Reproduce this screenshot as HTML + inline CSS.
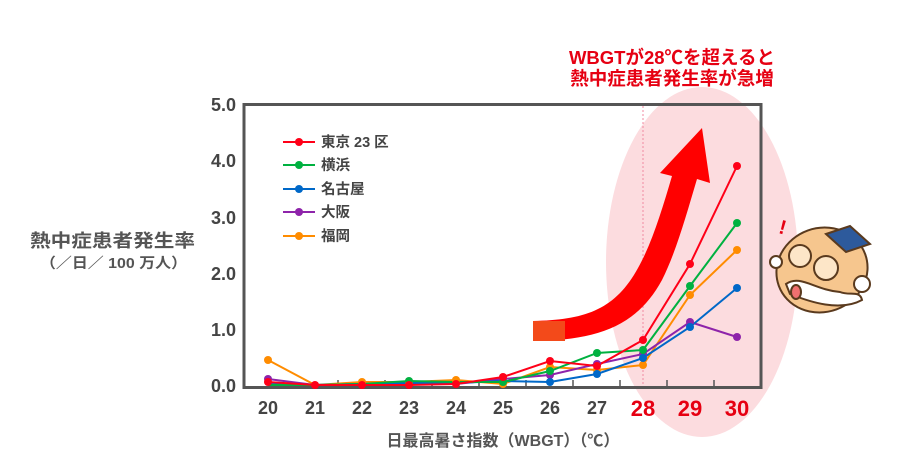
<!DOCTYPE html>
<html><head><meta charset="utf-8"><style>
html,body{margin:0;padding:0;background:#fff;}
svg{display:block;}
text{font-family:"Liberation Sans","Noto Sans CJK JP",sans-serif;font-weight:bold;}
</style></head><body>
<svg width="905" height="470" viewBox="0 0 905 470" xmlns="http://www.w3.org/2000/svg">
<ellipse cx="702" cy="262" rx="96" ry="175" fill="#fcdcdf"/>
<text x="672" y="64" font-size="18.5" fill="#e60012" text-anchor="middle">WBGTが28℃を超えると</text>
<text x="672" y="85" font-size="18.5" fill="#e60012" text-anchor="middle">熱中症患者発生率が急増</text>
<rect x="244" y="104.5" width="517" height="283" fill="none" stroke="#555" stroke-width="3"/>
<line x1="643" y1="106" x2="643" y2="386" stroke="#f08aa0" stroke-width="1" stroke-dasharray="2,2"/>
<g stroke="#555" stroke-width="1.5">
<line x1="338" y1="386" x2="338" y2="380"/><line x1="385" y1="386" x2="385" y2="380"/><line x1="432" y1="386" x2="432" y2="380"/><line x1="479" y1="386" x2="479" y2="380"/><line x1="526" y1="386" x2="526" y2="380"/><line x1="573" y1="386" x2="573" y2="380"/><line x1="620" y1="386" x2="620" y2="380"/><line x1="667" y1="386" x2="667" y2="380"/><line x1="714" y1="386" x2="714" y2="380"/>
</g>
<g font-size="18" fill="#444" text-anchor="end">
<text x="236" y="111">5.0</text><text x="236" y="167">4.0</text><text x="236" y="224">3.0</text><text x="236" y="280">2.0</text><text x="236" y="336">1.0</text><text x="236" y="392">0.0</text>
</g>
<text x="30" y="247" font-size="18" fill="#555" textLength="165" lengthAdjust="spacingAndGlyphs">熱中症患者発生率</text>
<text x="40" y="268" font-size="14.5" fill="#555" textLength="147" lengthAdjust="spacingAndGlyphs">（／日／ 100 万人）</text>
<g font-size="18" fill="#444" text-anchor="middle">
<text x="268" y="414">20</text><text x="315" y="414">21</text><text x="362" y="414">22</text><text x="409" y="414">23</text><text x="456" y="414">24</text><text x="503" y="414">25</text><text x="550" y="414">26</text><text x="597" y="414">27</text>
</g>
<g font-size="22" fill="#e60012" text-anchor="middle">
<text x="643" y="416">28</text><text x="690" y="416">29</text><text x="737" y="416">30</text>
</g>
<text x="503" y="446" font-size="16" fill="#555" text-anchor="middle" font-weight="normal">日最高暑さ指数（WBGT）（℃）</text>
<path d="M533 321 C585 320 615 310 638 268 C652 243 662 210 672 176 L660 173 L702 128 L710 183 L697 179 C686 216 676 252 662 280 C636 328 595 340 533 341 Z" fill="#f00"/>
<rect x="533" y="321" width="32" height="20" fill="#f34a1a"/>
<g fill="none" stroke-width="2">
<polyline stroke="#ff8c00" points="268,360 315,385 362,382 409,382 456,380 503,384 550,367 597,370 643,365 690,295 737,250"/>
<polyline stroke="#8e24aa" points="268,379 315,385 362,384 409,384 456,384 503,379 550,375 597,364 643,354 690,322 737,337"/>
<polyline stroke="#0068c8" points="268,384 315,385 362,384 409,383 456,383 503,381 550,382 597,374 643,358 690,327 737,288"/>
<polyline stroke="#00b140" points="268,385 315,385 362,384 409,381 456,382 503,382 550,371 597,353 643,350 690,286 737,223"/>
<polyline stroke="#ff0018" points="268,382 315,385 362,385 409,385 456,384 503,377 550,361 597,366 643,340 690,264 737,166"/>
</g>
<g fill="#ff8c00"><circle cx="268" cy="360" r="4"/><circle cx="362" cy="382" r="4"/><circle cx="409" cy="382" r="4"/><circle cx="456" cy="380" r="4"/><circle cx="503" cy="384" r="4"/><circle cx="550" cy="367" r="4"/><circle cx="597" cy="370" r="4"/><circle cx="643" cy="365" r="4"/><circle cx="690" cy="295" r="4"/><circle cx="737" cy="250" r="4"/></g>
<g fill="#8e24aa"><circle cx="268" cy="379" r="4"/><circle cx="503" cy="379" r="4"/><circle cx="550" cy="375" r="4"/><circle cx="597" cy="364" r="4"/><circle cx="643" cy="354" r="4"/><circle cx="690" cy="322" r="4"/><circle cx="737" cy="337" r="4"/></g>
<g fill="#0068c8"><circle cx="550" cy="382" r="4"/><circle cx="597" cy="374" r="4"/><circle cx="643" cy="358" r="4"/><circle cx="690" cy="327" r="4"/><circle cx="737" cy="288" r="4"/></g>
<g fill="#00b140"><circle cx="409" cy="381" r="4"/><circle cx="503" cy="382" r="4"/><circle cx="550" cy="371" r="4"/><circle cx="597" cy="353" r="4"/><circle cx="643" cy="350" r="4"/><circle cx="690" cy="286" r="4"/><circle cx="737" cy="223" r="4"/></g>
<g fill="#ff0018"><circle cx="268" cy="382" r="4"/><circle cx="315" cy="385" r="4"/><circle cx="362" cy="385" r="4"/><circle cx="409" cy="385" r="4"/><circle cx="456" cy="384" r="4"/><circle cx="503" cy="377" r="4"/><circle cx="550" cy="361" r="4"/><circle cx="597" cy="366" r="4"/><circle cx="643" cy="340" r="4"/><circle cx="690" cy="264" r="4"/><circle cx="737" cy="166" r="4"/></g>
<g stroke-width="2">
<line x1="283" y1="142" x2="315" y2="142" stroke="#ff0018"/><circle cx="299" cy="142" r="4" fill="#ff0018"/>
<line x1="283" y1="165" x2="315" y2="165" stroke="#00b140"/><circle cx="299" cy="165" r="4" fill="#00b140"/>
<line x1="283" y1="189" x2="315" y2="189" stroke="#0068c8"/><circle cx="299" cy="189" r="4" fill="#0068c8"/>
<line x1="283" y1="212" x2="315" y2="212" stroke="#8e24aa"/><circle cx="299" cy="212" r="4" fill="#8e24aa"/>
<line x1="283" y1="236" x2="315" y2="236" stroke="#ff8c00"/><circle cx="299" cy="236" r="4" fill="#ff8c00"/>
</g>
<g font-size="14.5" fill="#444">
<text x="321" y="147">東京 23 区</text><text x="321" y="170">横浜</text><text x="321" y="194">名古屋</text><text x="321" y="217">大阪</text><text x="321" y="241">福岡</text>
</g>
<text x="780" y="234" font-size="20" fill="#e60012" transform="rotate(15 783 225)">!</text>
<g stroke="#5a3a1e" stroke-width="2">
<ellipse cx="822" cy="270" rx="46" ry="42" fill="#f6c68e" transform="rotate(-20 822 270)"/>
<circle cx="800" cy="256" r="11" fill="#fde6c8"/>
<circle cx="826" cy="268" r="12" fill="#fde6c8"/>
<path d="M786 284 C800 274 815 290 840 292 C850 296 860 290 862 300 C840 312 810 302 790 294 Z" fill="#fff"/>
<ellipse cx="796" cy="292" rx="5" ry="7" fill="#f07070"/>
<path d="M826 234 L850 226 L870 244 L846 252 Z" fill="#2d5a9c"/>
<circle cx="776" cy="262" r="6" fill="#fff"/>
<circle cx="862" cy="284" r="8" fill="#fff"/>
</g>
</svg>
</body></html>
